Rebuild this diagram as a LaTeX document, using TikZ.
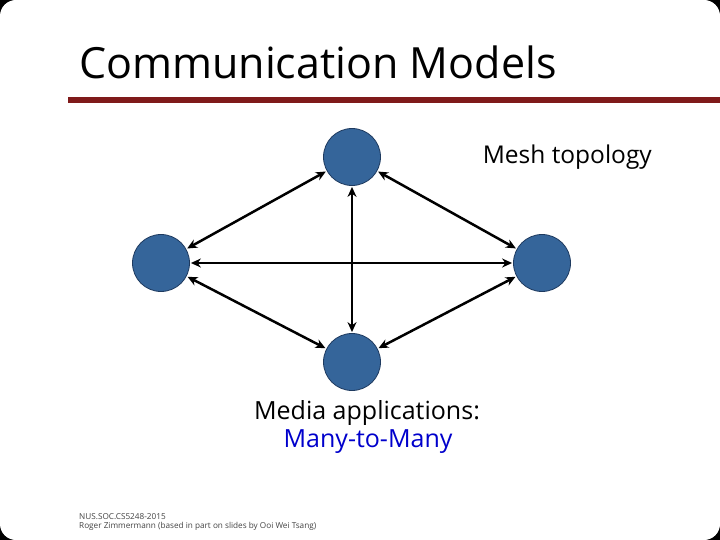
\documentclass[tikz,border=0pt]{standalone}
\usepackage{fontspec}
\setmainfont{Open Sans}
\usetikzlibrary{arrows.meta}
\definecolor{nodeblue}{HTML}{35659A}
\definecolor{nodeedge}{HTML}{1E3A5F}
\definecolor{barred}{HTML}{7F1A1A}
\definecolor{linkblue}{HTML}{0000CC}
\definecolor{footgray}{HTML}{444444}
\tikzset{
  meshnode/.style={circle, fill=nodeblue, draw=nodeedge, line width=0.8pt, minimum size=57pt, inner sep=0pt},
  link/.style={line width=2.5pt, {Stealth[length=10pt,width=9pt]}-{Stealth[length=10pt,width=9pt]}, shorten <=1pt, shorten >=1pt}
}
\begin{document}
\begin{tikzpicture}[x=1pt,y=-1pt]
\useasboundingbox (0,0) rectangle (720,540);
\fill[black] (0,0) rectangle (720,540);
\fill[white, rounded corners=16pt] (0,0) rectangle (720,540);
% title
\node[anchor=base west, inner sep=0pt, font=\fontsize{43}{48}\selectfont] (title) at (79,79) {Communication Models};
\fill[barred] (68,97) rectangle (720,103);
% nodes
\node[meshnode] (top) at (352,157) {};
\node[meshnode] (left) at (161,263) {};
\node[meshnode] (right) at (542,263) {};
\node[meshnode] (bot) at (352,362) {};
% links
\draw[link] (top) -- (left);
\draw[link] (top) -- (right);
\draw[link] (left) -- (right);
\draw[link] (top) -- (bot);
\draw[link] (left) -- (bot);
\draw[link] (right) -- (bot);
% labels
\node[anchor=base east, inner sep=0pt, font=\fontsize{24.5}{28}\selectfont] (mesh) at (652,164) {Mesh topology};
\node[anchor=base, inner sep=0pt, font=\fontsize{25}{28}\selectfont] (media) at (367,419) {Media applications:};
\node[anchor=base, inner sep=0pt, font=\fontsize{25}{28}\selectfont, text=linkblue] (many) at (368,447) {Many-to-Many};
% footer
\node[anchor=base west, inner sep=0pt, font=\fontsize{8.2}{9}\selectfont, text=footgray, align=left] (foot1) at (79,519) {NUS.SOC.CS5248-2015};
\node[anchor=base west, inner sep=0pt, font=\fontsize{8.2}{9}\selectfont, text=footgray, align=left] (foot2) at (79,528) {Roger Zimmermann (based in part on slides by Ooi Wei Tsang)};
\end{tikzpicture}
\end{document}
